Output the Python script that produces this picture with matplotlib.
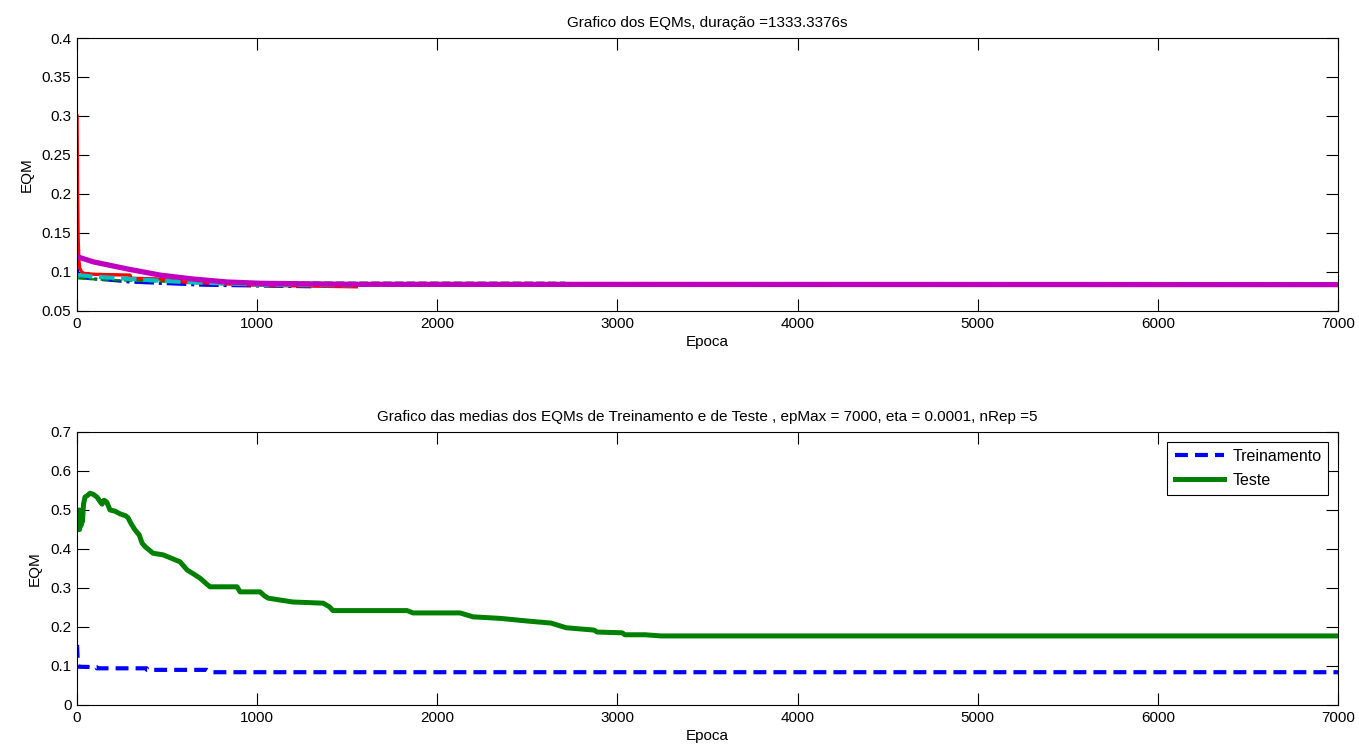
import numpy as np
import matplotlib
matplotlib.use('Agg')
import matplotlib.pyplot as plt
from matplotlib.ticker import FixedLocator, FuncFormatter

plt.rcParams['font.family'] = ['Liberation Sans', 'DejaVu Sans']
plt.rcParams['font.size'] = 11

# top plot: EQM per repetition (epoch, value)
ep_rep1 = [0, 5, 20, 50, 100, 200, 300, 500, 700, 1000, 1300]
eqm_rep1 = [0.106, 0.097, 0.094, 0.092, 0.091, 0.089, 0.087, 0.085, 0.083, 0.082, 0.081]

ep_rep2 = [0, 50, 200, 500, 1000, 1500, 2710]
eqm_rep2 = [0.092, 0.091, 0.0895, 0.0875, 0.0866, 0.0864, 0.0863]

ep_rep3 = [0, 3, 6, 10, 15, 25, 40, 100, 294, 300, 460, 600, 1000, 1550]
eqm_rep3 = [0.30, 0.20, 0.145, 0.115, 0.105, 0.100, 0.098, 0.097, 0.096, 0.092, 0.091, 0.087, 0.083, 0.081]

ep_rep4 = [0, 100, 300, 600, 1000, 1530]
eqm_rep4 = [0.096, 0.094, 0.091, 0.087, 0.084, 0.083]

ep_rep5 = [0, 90, 277, 461, 644, 832, 1016, 1515, 7000]
eqm_rep5 = [0.1196, 0.113, 0.104, 0.096, 0.091, 0.0872, 0.0855, 0.0842, 0.0838]

# bottom plot: mean EQMs
ep_treino = [0, 3, 8, 109, 110, 387, 388, 720, 738, 7000]
eqm_treino = [0.154, 0.12, 0.098, 0.097, 0.094, 0.094, 0.090, 0.090, 0.084, 0.084]

ep_teste = [0, 3, 6, 10, 14, 18, 22, 26, 30, 36, 44, 60, 72, 90, 111, 130, 139, 150,
            165, 183, 210, 239, 270, 283, 300, 320, 345, 361, 380, 422, 477, 530, 572,
            611, 650, 683, 720, 738, 888, 905, 1016, 1040, 1060, 1127, 1199, 1366, 1400,
            1421, 1832, 1865, 2126, 2198, 2350, 2505, 2631, 2715, 2870, 2887, 3026, 3042,
            3153, 3242, 7000]
eqm_teste = [0.450, 0.490, 0.455, 0.500, 0.450, 0.480, 0.460, 0.500, 0.470, 0.515, 0.533, 0.538, 0.543, 0.540, 0.533, 0.520, 0.515, 0.525,
             0.520, 0.500, 0.497, 0.490, 0.485, 0.480, 0.465, 0.450, 0.436, 0.415, 0.405, 0.389, 0.385, 0.375, 0.367,
             0.346, 0.335, 0.325, 0.310, 0.303, 0.303, 0.290, 0.290, 0.280, 0.274, 0.269, 0.264, 0.261, 0.252,
             0.242, 0.242, 0.236, 0.236, 0.226, 0.222, 0.215, 0.210, 0.198, 0.192, 0.187, 0.185, 0.180,
             0.180, 0.177, 0.177]

xticks = [0, 1000, 2000, 3000, 4000, 5000, 6000, 7000]

fig = plt.figure(figsize=(13.59, 7.51), dpi=100)
ax1 = fig.add_axes([0.0567, 0.5859, 0.9279, 0.3635])
ax2 = fig.add_axes([0.0567, 0.0613, 0.9279, 0.3635])

ax1.plot(ep_rep1, eqm_rep1, color='b', ls='-.', lw=2.2)
ax1.plot(ep_rep2, eqm_rep2, color='g', ls='--', lw=1.6)
ax1.plot(ep_rep3, eqm_rep3, color='r', ls='-', lw=2.4)
ax1.plot(ep_rep4, eqm_rep4, color='c', ls='--', lw=3.0)
ax1.plot(ep_rep5, eqm_rep5, color='m', ls='-', lw=3.8)
ax1.set_ylim(0.05, 0.4)
ax1.yaxis.set_major_locator(FixedLocator([0.05, 0.1, 0.15, 0.2, 0.25, 0.3, 0.35, 0.4]))
ax1.set_title('Grafico dos EQMs, duração =1333.3376s', fontsize=11, pad=8)

ax2.plot(ep_treino, eqm_treino, color='b', ls='--', lw=3.0, dashes=(3.1, 1.7), label='Treinamento')
ax2.plot(ep_teste, eqm_teste, color='g', ls='-', lw=3.6, label='Teste')
ax2.set_ylim(0, 0.7)
ax2.yaxis.set_major_locator(FixedLocator([0, 0.1, 0.2, 0.3, 0.4, 0.5, 0.6, 0.7]))
ax2.set_title('Grafico das medias dos EQMs de Treinamento e de Teste , epMax = 7000, eta = 0.0001, nRep =5',
              fontsize=11, pad=8)
leg = ax2.legend(loc='upper right', fancybox=False, framealpha=1, edgecolor='black',
                 fontsize=11.5, handlelength=3.1, borderaxespad=0.6, borderpad=0.45,
                 labelspacing=0.55, handletextpad=0.5)
leg.get_frame().set_linewidth(0.8)

for ax in (ax1, ax2):
    ax.set_xlim(0, 7000)
    ax.xaxis.set_major_locator(FixedLocator(xticks))
    ax.yaxis.set_major_formatter(FuncFormatter(lambda v, p: '%g' % round(v, 4)))
    ax.tick_params(direction='in', length=8.5, width=0.8, top=True, right=True, pad=4)
    ax.set_xlabel('Epoca', labelpad=3)
    ax.set_ylabel('EQM', labelpad=6)
    for s in ax.spines.values():
        s.set_linewidth(0.8)

fig.savefig('out.png', dpi=100)
